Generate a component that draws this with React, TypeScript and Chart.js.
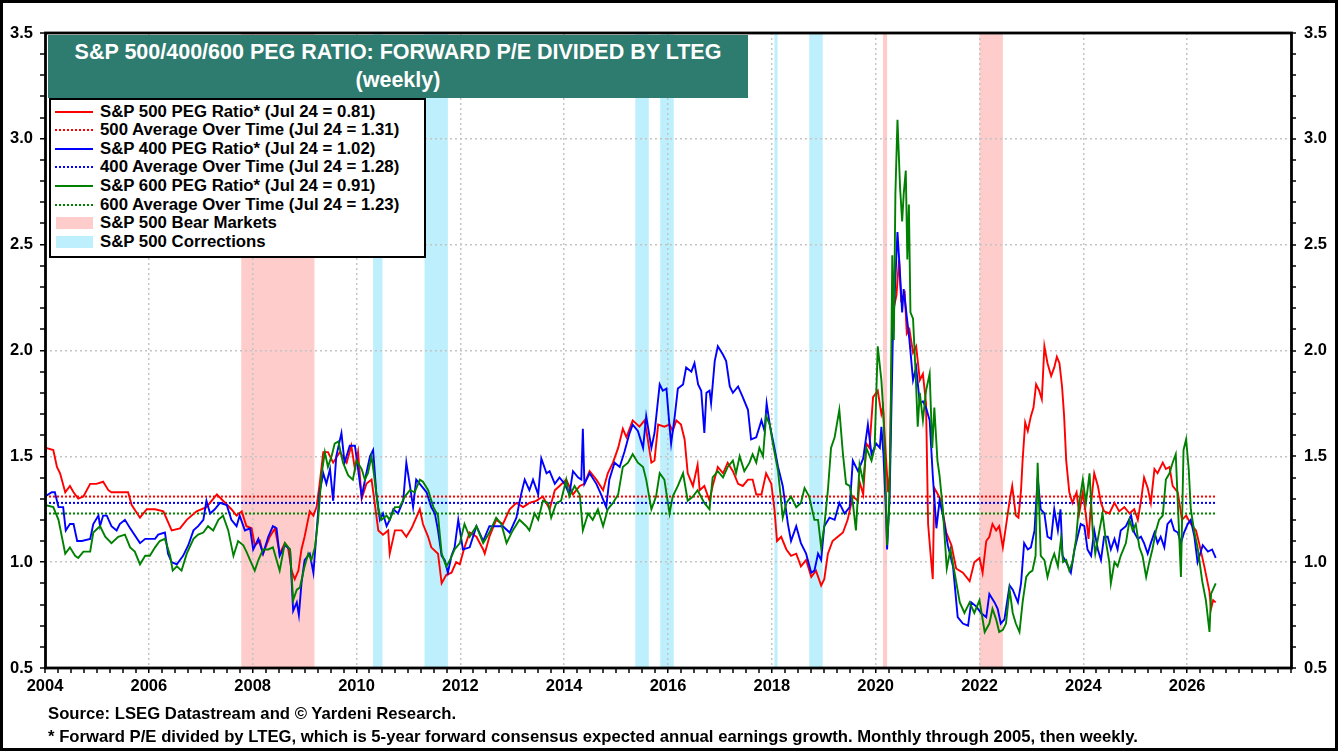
import React, { useEffect, useRef } from "react";
import { Chart, registerables } from "chart.js";
Chart.register(...registerables);

const FONT = '"Liberation Sans", Arial, Helvetica, sans-serif';

const titleLines = ["S&P 500/400/600 PEG RATIO: FORWARD P/E DIVIDED BY LTEG", "(weekly)"];
const footnotes = [
  "Source: LSEG Datastream and \u00a9 Yardeni Research.",
  "* Forward P/E divided by LTEG, which is 5-year forward consensus expected annual earnings growth. Monthly through 2005, then weekly.",
];
const xLabelYears = [2004, 2006, 2008, 2010, 2012, 2014, 2016, 2018, 2020, 2022, 2024, 2026];
const yLabelValues = [0.5, 1.0, 1.5, 2.0, 2.5, 3.0, 3.5];

const legendLabels = [
  "S&P 500 PEG Ratio* (Jul 24 = 0.81)",
  "500 Average Over Time (Jul 24 = 1.31)",
  "S&P 400 PEG Ratio* (Jul 24 = 1.02)",
  "400 Average Over Time (Jul 24 = 1.28)",
  "S&P 600 PEG Ratio* (Jul 24 = 0.91)",
  "600 Average Over Time (Jul 24 = 1.23)",
  "S&P 500 Bear Markets",
  "S&P 500 Corrections",
];

const avg500 = 1.31;
const avg400 = 1.28;
const avg600 = 1.23;
const avgSpan = [2004.0, 2026.55];

const bearMarkets = [[2007.78, 2009.19], [2020.14, 2020.22], [2022.0, 2022.45]];
const corrections = [[2010.32, 2010.5], [2011.31, 2011.76], [2015.37, 2015.63], [2015.85, 2016.11], [2018.05, 2018.11], [2018.72, 2018.98]];

const sp500 = [[2004.00,1.49],[2004.02,1.54],[2004.16,1.53],[2004.23,1.45],[2004.29,1.42],[2004.39,1.33],[2004.48,1.36],[2004.55,1.33],[2004.64,1.30],[2004.74,1.31],[2004.87,1.37],[2004.99,1.37],[2005.12,1.38],[2005.22,1.34],[2005.28,1.33],[2005.60,1.33],[2005.67,1.27],[2005.83,1.21],[2005.96,1.25],[2006.12,1.25],[2006.28,1.24],[2006.44,1.15],[2006.60,1.16],[2006.73,1.20],[2006.92,1.24],[2007.11,1.26],[2007.31,1.32],[2007.43,1.29],[2007.59,1.25],[2007.69,1.22],[2007.79,1.24],[2007.88,1.17],[2007.98,1.16],[2008.04,1.08],[2008.14,1.10],[2008.20,1.04],[2008.33,1.12],[2008.43,1.16],[2008.52,1.04],[2008.62,1.09],[2008.68,1.07],[2008.75,0.96],[2008.81,0.92],[2008.88,0.96],[2008.94,1.06],[2009.00,1.12],[2009.10,1.24],[2009.17,1.22],[2009.23,1.26],[2009.29,1.37],[2009.36,1.52],[2009.45,1.52],[2009.55,1.47],[2009.68,1.52],[2009.81,1.47],[2009.90,1.55],[2009.97,1.44],[2010.03,1.52],[2010.10,1.30],[2010.19,1.37],[2010.29,1.39],[2010.35,1.28],[2010.42,1.15],[2010.51,1.13],[2010.61,1.15],[2010.64,1.04],[2010.74,1.15],[2010.87,1.15],[2010.96,1.12],[2011.06,1.16],[2011.15,1.21],[2011.22,1.25],[2011.28,1.18],[2011.38,1.12],[2011.44,1.07],[2011.57,1.04],[2011.64,0.90],[2011.73,0.94],[2011.83,0.95],[2011.92,1.00],[2011.99,0.99],[2012.08,1.07],[2012.18,1.14],[2012.31,1.12],[2012.44,1.06],[2012.47,1.04],[2012.56,1.12],[2012.69,1.20],[2012.82,1.18],[2012.95,1.25],[2013.08,1.28],[2013.21,1.26],[2013.33,1.28],[2013.46,1.29],[2013.59,1.31],[2013.72,1.25],[2013.82,1.34],[2013.91,1.36],[2014.04,1.39],[2014.17,1.32],[2014.30,1.36],[2014.39,1.37],[2014.49,1.43],[2014.62,1.39],[2014.75,1.34],[2014.84,1.42],[2014.94,1.47],[2015.04,1.54],[2015.13,1.63],[2015.20,1.59],[2015.32,1.67],[2015.45,1.64],[2015.55,1.67],[2015.61,1.58],[2015.68,1.47],[2015.74,1.48],[2015.81,1.65],[2015.93,1.64],[2016.03,1.65],[2016.09,1.62],[2016.16,1.67],[2016.25,1.65],[2016.32,1.58],[2016.38,1.42],[2016.48,1.36],[2016.57,1.46],[2016.61,1.34],[2016.70,1.36],[2016.80,1.29],[2016.86,1.36],[2016.96,1.45],[2017.06,1.42],[2017.15,1.47],[2017.25,1.43],[2017.35,1.37],[2017.44,1.36],[2017.54,1.39],[2017.63,1.39],[2017.70,1.32],[2017.80,1.32],[2017.89,1.42],[2017.99,1.37],[2018.05,1.25],[2018.10,1.10],[2018.18,1.12],[2018.28,1.06],[2018.37,1.03],[2018.47,1.04],[2018.56,0.98],[2018.66,1.01],[2018.76,0.93],[2018.85,0.96],[2018.95,0.89],[2019.01,0.92],[2019.08,1.04],[2019.17,1.10],[2019.27,1.12],[2019.37,1.14],[2019.46,1.20],[2019.56,1.31],[2019.66,1.29],[2019.69,1.38],[2019.76,1.32],[2019.82,1.56],[2019.88,1.54],[2019.95,1.78],[2020.04,1.81],[2020.11,1.70],[2020.14,1.73],[2020.20,1.49],[2020.24,1.33],[2020.27,1.41],[2020.30,1.86],[2020.33,2.18],[2020.40,2.26],[2020.45,2.43],[2020.49,2.24],[2020.56,2.27],[2020.60,2.08],[2020.65,2.10],[2020.72,1.99],[2020.78,2.02],[2020.85,1.86],[2020.91,1.89],[2020.97,1.75],[2021.01,1.18],[2021.05,1.06],[2021.10,0.92],[2021.13,1.35],[2021.20,1.32],[2021.26,1.29],[2021.36,1.14],[2021.46,1.08],[2021.55,0.97],[2021.68,0.95],[2021.81,0.91],[2021.90,1.00],[2022.00,1.02],[2022.06,0.95],[2022.13,1.10],[2022.19,1.12],[2022.25,1.18],[2022.32,1.15],[2022.38,1.17],[2022.45,1.07],[2022.51,1.17],[2022.58,1.29],[2022.63,1.36],[2022.70,1.22],[2022.75,1.21],[2022.80,1.34],[2022.83,1.48],[2022.88,1.66],[2022.93,1.62],[2022.99,1.69],[2023.04,1.73],[2023.09,1.84],[2023.15,1.81],[2023.20,1.77],[2023.25,2.02],[2023.31,1.94],[2023.38,1.88],[2023.44,1.92],[2023.49,1.97],[2023.54,1.94],[2023.59,1.83],[2023.63,1.69],[2023.67,1.48],[2023.73,1.33],[2023.79,1.28],[2023.87,1.33],[2023.92,1.23],[2023.99,1.33],[2024.05,1.22],[2024.10,1.11],[2024.15,1.28],[2024.21,1.42],[2024.28,1.36],[2024.34,1.28],[2024.40,1.24],[2024.50,1.23],[2024.60,1.28],[2024.69,1.24],[2024.79,1.26],[2024.89,1.23],[2024.98,1.25],[2025.05,1.20],[2025.11,1.29],[2025.17,1.40],[2025.24,1.35],[2025.30,1.28],[2025.37,1.44],[2025.43,1.42],[2025.53,1.47],[2025.59,1.44],[2025.66,1.45],[2025.72,1.36],[2025.82,1.33],[2025.90,1.20],[2025.98,1.22],[2026.07,1.18],[2026.17,1.15],[2026.23,1.09],[2026.33,0.98],[2026.43,0.86],[2026.46,0.78],[2026.50,0.82],[2026.55,0.81]];

const sp400 = [[2004.00,1.31],[2004.13,1.33],[2004.19,1.33],[2004.26,1.26],[2004.35,1.26],[2004.40,1.15],[2004.48,1.18],[2004.55,1.18],[2004.62,1.10],[2004.71,1.10],[2004.87,1.11],[2004.93,1.18],[2005.03,1.22],[2005.06,1.17],[2005.12,1.22],[2005.19,1.22],[2005.28,1.17],[2005.38,1.15],[2005.44,1.18],[2005.54,1.20],[2005.64,1.16],[2005.83,1.09],[2005.93,1.11],[2006.12,1.11],[2006.18,1.13],[2006.31,1.14],[2006.37,1.04],[2006.44,1.00],[2006.54,0.99],[2006.60,1.01],[2006.66,1.03],[2006.76,1.08],[2006.86,1.15],[2006.95,1.17],[2007.05,1.20],[2007.11,1.29],[2007.18,1.23],[2007.27,1.25],[2007.37,1.28],[2007.50,1.27],[2007.59,1.20],[2007.69,1.17],[2007.75,1.22],[2007.85,1.15],[2007.95,1.16],[2008.01,1.06],[2008.11,1.11],[2008.20,1.04],[2008.30,1.12],[2008.39,1.17],[2008.46,1.16],[2008.52,1.03],[2008.62,1.08],[2008.72,1.06],[2008.78,0.77],[2008.85,0.81],[2008.89,0.75],[2008.94,0.90],[2009.00,1.01],[2009.10,1.04],[2009.17,0.95],[2009.23,1.14],[2009.29,1.33],[2009.36,1.42],[2009.42,1.37],[2009.49,1.44],[2009.55,1.29],[2009.61,1.50],[2009.71,1.61],[2009.77,1.47],[2009.87,1.55],[2009.97,1.55],[2010.03,1.44],[2010.10,1.31],[2010.19,1.42],[2010.26,1.50],[2010.32,1.53],[2010.38,1.33],[2010.45,1.20],[2010.51,1.23],[2010.58,1.17],[2010.64,1.20],[2010.71,1.25],[2010.80,1.23],[2010.90,1.29],[2010.96,1.47],[2011.03,1.36],[2011.09,1.26],[2011.15,1.39],[2011.25,1.36],[2011.35,1.33],[2011.44,1.26],[2011.51,1.23],[2011.57,1.15],[2011.64,1.03],[2011.70,1.01],[2011.76,0.95],[2011.83,1.03],[2011.89,1.07],[2011.96,1.20],[2012.05,1.06],[2012.18,1.07],[2012.31,1.17],[2012.44,1.10],[2012.56,1.17],[2012.69,1.17],[2012.82,1.17],[2012.95,1.14],[2013.08,1.21],[2013.17,1.32],[2013.24,1.39],[2013.33,1.34],[2013.40,1.39],[2013.50,1.32],[2013.56,1.49],[2013.66,1.42],[2013.72,1.43],[2013.82,1.37],[2013.91,1.40],[2014.01,1.37],[2014.10,1.32],[2014.17,1.43],[2014.27,1.40],[2014.33,1.39],[2014.36,1.63],[2014.39,1.37],[2014.49,1.42],[2014.62,1.37],[2014.71,1.32],[2014.81,1.26],[2014.87,1.39],[2014.97,1.47],[2015.07,1.45],[2015.16,1.52],[2015.26,1.61],[2015.32,1.65],[2015.42,1.62],[2015.52,1.54],[2015.58,1.69],[2015.68,1.54],[2015.74,1.61],[2015.84,1.84],[2015.90,1.81],[2015.97,1.82],[2016.03,1.64],[2016.06,1.56],[2016.13,1.69],[2016.19,1.82],[2016.29,1.84],[2016.35,1.92],[2016.45,1.90],[2016.51,1.94],[2016.58,1.84],[2016.64,1.81],[2016.70,1.61],[2016.74,1.80],[2016.80,1.81],[2016.83,1.75],[2016.90,1.95],[2016.96,2.02],[2017.06,1.98],[2017.12,1.95],[2017.19,1.83],[2017.25,1.80],[2017.35,1.83],[2017.44,1.78],[2017.54,1.72],[2017.60,1.58],[2017.70,1.59],[2017.80,1.67],[2017.86,1.62],[2017.90,1.75],[2017.96,1.65],[2018.05,1.54],[2018.12,1.45],[2018.21,1.36],[2018.31,1.18],[2018.37,1.10],[2018.47,1.17],[2018.56,1.09],[2018.66,1.04],[2018.76,0.95],[2018.82,0.96],[2018.89,1.04],[2018.95,1.01],[2019.01,1.17],[2019.11,1.21],[2019.21,1.20],[2019.30,1.28],[2019.40,1.23],[2019.50,1.26],[2019.56,1.48],[2019.66,1.43],[2019.76,1.49],[2019.85,1.65],[2019.92,1.51],[2020.01,1.56],[2020.08,1.54],[2020.11,1.64],[2020.15,1.51],[2020.20,1.23],[2020.22,1.06],[2020.27,1.32],[2020.33,2.05],[2020.38,2.34],[2020.42,2.56],[2020.46,2.40],[2020.51,2.18],[2020.54,2.29],[2020.59,2.18],[2020.65,2.05],[2020.72,1.86],[2020.78,1.92],[2020.85,1.75],[2020.91,1.76],[2020.97,1.73],[2021.04,1.67],[2021.10,1.41],[2021.17,1.16],[2021.23,1.29],[2021.29,1.23],[2021.39,1.08],[2021.49,0.98],[2021.58,0.74],[2021.68,0.71],[2021.78,0.70],[2021.84,0.81],[2021.94,0.79],[2022.03,0.76],[2022.13,0.74],[2022.19,0.85],[2022.29,0.81],[2022.35,0.78],[2022.41,0.71],[2022.48,0.73],[2022.58,0.89],[2022.64,0.87],[2022.74,0.81],[2022.80,0.90],[2022.86,1.09],[2022.93,1.06],[2022.99,1.07],[2023.06,1.15],[2023.12,1.40],[2023.18,1.25],[2023.25,1.23],[2023.31,1.12],[2023.38,1.11],[2023.44,1.25],[2023.51,1.15],[2023.56,1.25],[2023.60,1.03],[2023.67,1.00],[2023.76,0.95],[2023.83,1.06],[2023.89,1.12],[2023.95,1.18],[2024.02,1.17],[2024.08,1.06],[2024.15,1.03],[2024.21,1.15],[2024.28,1.06],[2024.34,1.01],[2024.40,1.12],[2024.47,1.12],[2024.53,1.06],[2024.60,1.11],[2024.66,1.06],[2024.72,1.15],[2024.82,1.17],[2024.92,1.22],[2024.98,1.14],[2025.05,1.11],[2025.11,1.12],[2025.17,1.09],[2025.24,1.04],[2025.30,1.09],[2025.37,1.14],[2025.43,1.09],[2025.49,1.12],[2025.56,1.07],[2025.62,1.18],[2025.69,1.20],[2025.75,1.15],[2025.82,1.14],[2025.88,1.09],[2025.94,1.14],[2026.01,1.18],[2026.07,1.20],[2026.14,1.12],[2026.20,1.00],[2026.30,1.08],[2026.40,1.05],[2026.48,1.06],[2026.55,1.02]];

const sp600 = [[2004.00,1.27],[2004.16,1.26],[2004.26,1.20],[2004.39,1.04],[2004.48,1.07],[2004.58,1.03],[2004.64,1.02],[2004.74,1.05],[2004.87,1.05],[2004.93,1.14],[2005.06,1.17],[2005.16,1.12],[2005.28,1.09],[2005.41,1.12],[2005.54,1.13],[2005.64,1.07],[2005.73,1.05],[2005.83,0.99],[2005.93,1.03],[2006.02,1.03],[2006.12,1.07],[2006.21,1.10],[2006.31,1.11],[2006.41,1.03],[2006.46,0.96],[2006.54,0.98],[2006.63,0.96],[2006.73,1.04],[2006.86,1.11],[2006.95,1.13],[2007.05,1.14],[2007.14,1.17],[2007.24,1.15],[2007.34,1.20],[2007.43,1.22],[2007.53,1.15],[2007.63,1.03],[2007.72,1.10],[2007.82,1.08],[2007.88,1.05],[2007.95,1.01],[2008.04,0.96],[2008.11,1.01],[2008.20,1.06],[2008.30,1.06],[2008.39,1.07],[2008.52,0.96],[2008.62,1.09],[2008.72,1.06],[2008.78,0.82],[2008.85,0.87],[2008.91,0.88],[2009.00,0.98],[2009.07,1.04],[2009.13,1.01],[2009.20,1.07],[2009.26,1.20],[2009.33,1.42],[2009.39,1.52],[2009.45,1.45],[2009.52,1.50],[2009.58,1.56],[2009.65,1.57],[2009.74,1.47],[2009.84,1.41],[2009.93,1.39],[2010.00,1.48],[2010.10,1.44],[2010.16,1.39],[2010.22,1.42],[2010.29,1.50],[2010.35,1.39],[2010.42,1.25],[2010.48,1.20],[2010.58,1.22],[2010.64,1.20],[2010.74,1.26],[2010.83,1.26],[2010.93,1.31],[2011.03,1.34],[2011.12,1.33],[2011.22,1.39],[2011.28,1.38],[2011.38,1.34],[2011.48,1.26],[2011.57,1.22],[2011.64,1.04],[2011.73,0.98],[2011.80,1.01],[2011.89,1.06],[2011.99,1.09],[2012.08,1.18],[2012.18,1.12],[2012.31,1.17],[2012.44,1.09],[2012.56,1.14],[2012.69,1.21],[2012.79,1.18],[2012.89,1.09],[2013.01,1.15],[2013.14,1.20],[2013.27,1.17],[2013.33,1.15],[2013.43,1.23],[2013.50,1.20],[2013.59,1.29],[2013.69,1.28],[2013.75,1.21],[2013.85,1.28],[2013.94,1.29],[2014.04,1.39],[2014.10,1.31],[2014.20,1.36],[2014.30,1.32],[2014.36,1.15],[2014.46,1.23],[2014.55,1.20],[2014.65,1.25],[2014.75,1.17],[2014.84,1.25],[2014.94,1.28],[2015.04,1.32],[2015.13,1.45],[2015.23,1.47],[2015.32,1.51],[2015.42,1.47],[2015.52,1.45],[2015.58,1.39],[2015.68,1.25],[2015.77,1.31],[2015.84,1.42],[2015.93,1.39],[2016.03,1.23],[2016.09,1.31],[2016.19,1.36],[2016.29,1.42],[2016.38,1.29],[2016.48,1.31],[2016.57,1.34],[2016.70,1.28],[2016.80,1.25],[2016.86,1.40],[2016.96,1.43],[2017.06,1.40],[2017.15,1.45],[2017.25,1.48],[2017.31,1.42],[2017.38,1.50],[2017.47,1.43],[2017.57,1.47],[2017.63,1.51],[2017.70,1.47],[2017.76,1.54],[2017.83,1.50],[2017.89,1.69],[2017.96,1.65],[2018.02,1.56],[2018.12,1.43],[2018.21,1.21],[2018.28,1.28],[2018.37,1.31],[2018.47,1.26],[2018.56,1.28],[2018.63,1.35],[2018.72,1.31],[2018.82,1.20],[2018.89,1.20],[2018.95,1.07],[2019.01,1.17],[2019.08,1.34],[2019.14,1.54],[2019.21,1.59],[2019.30,1.72],[2019.37,1.51],[2019.43,1.37],[2019.50,1.36],[2019.56,1.28],[2019.62,1.15],[2019.69,1.46],[2019.76,1.38],[2019.82,1.54],[2019.92,1.48],[2019.98,1.54],[2020.04,2.02],[2020.11,1.86],[2020.15,1.70],[2020.19,1.38],[2020.22,1.08],[2020.26,1.26],[2020.29,1.70],[2020.32,2.45],[2020.35,2.05],[2020.38,2.74],[2020.42,3.09],[2020.47,2.77],[2020.51,2.61],[2020.54,2.74],[2020.58,2.85],[2020.61,2.43],[2020.64,2.69],[2020.67,2.18],[2020.72,2.15],[2020.77,1.89],[2020.81,1.64],[2020.85,1.80],[2020.91,1.67],[2020.97,1.81],[2021.04,1.89],[2021.09,1.54],[2021.13,1.73],[2021.19,1.48],[2021.23,1.41],[2021.29,1.26],[2021.37,0.97],[2021.44,1.06],[2021.52,0.95],[2021.62,0.81],[2021.71,0.76],[2021.81,0.81],[2021.90,0.76],[2022.00,0.82],[2022.10,0.67],[2022.19,0.71],[2022.25,0.78],[2022.32,0.73],[2022.38,0.67],[2022.45,0.68],[2022.51,0.71],[2022.58,0.87],[2022.64,0.76],[2022.70,0.71],[2022.77,0.67],[2022.83,0.81],[2022.90,0.93],[2022.96,0.95],[2023.02,0.96],[2023.08,1.03],[2023.12,1.47],[2023.15,1.26],[2023.18,1.03],[2023.25,1.01],[2023.31,0.93],[2023.38,1.00],[2023.44,1.04],[2023.51,0.98],[2023.57,1.11],[2023.61,1.00],[2023.67,1.01],[2023.73,0.96],[2023.79,1.00],[2023.86,1.11],[2023.92,1.28],[2023.99,1.39],[2024.05,1.28],[2024.12,1.42],[2024.18,1.15],[2024.23,1.04],[2024.31,1.15],[2024.37,1.23],[2024.44,1.09],[2024.50,1.00],[2024.53,0.90],[2024.60,1.00],[2024.66,0.98],[2024.72,1.03],[2024.82,1.09],[2024.89,1.20],[2024.95,1.15],[2025.01,1.18],[2025.08,1.07],[2025.14,1.03],[2025.21,0.93],[2025.27,1.00],[2025.33,1.06],[2025.40,1.15],[2025.46,1.20],[2025.53,1.22],[2025.59,1.39],[2025.66,1.42],[2025.72,1.47],[2025.78,1.51],[2025.83,1.22],[2025.88,0.93],[2025.93,1.53],[2025.98,1.58],[2026.03,1.44],[2026.07,1.25],[2026.14,1.14],[2026.20,1.07],[2026.29,0.91],[2026.36,0.82],[2026.43,0.67],[2026.46,0.85],[2026.55,0.90]];

const RED = "#ff0000";
const BLUE = "#0000ff";
const GREEN = "#008000";
const BEAR = "#ffcccc";
const CORR = "#bdf0fc";
const TITLE_BG = "#2e7b6f";

const toXY = (arr: number[][]) => arr.map(([x, y]) => ({ x, y }));
const flat = (v: number) => avgSpan.map((x) => ({ x, y: v }));
const isMajorY = (v: number) => Math.abs(v * 2 - Math.round(v * 2)) < 1e-6;

const shadePlugin = {
  id: "shade",
  beforeDraw(chart: any) {
    const { ctx, chartArea, scales } = chart;
    const xs = scales.x;
    ctx.save();
    const paint = (ranges: number[][], color: string) => {
      ctx.fillStyle = color;
      ranges.forEach(([a, b]) => {
        const x1 = xs.getPixelForValue(a);
        const x2 = xs.getPixelForValue(b);
        ctx.fillRect(x1, chartArea.top, Math.max(1.5, x2 - x1), chartArea.bottom - chartArea.top);
      });
    };
    paint(corrections, CORR);
    paint(bearMarkets, BEAR);
    ctx.restore();
  },
  afterDraw(chart: any) {
    const { ctx, chartArea } = chart;
    ctx.save();
    ctx.strokeStyle = "#000";
    ctx.lineWidth = 2.8;
    ctx.strokeRect(chartArea.left + 0.5, chartArea.top, chartArea.right - chartArea.left, chartArea.bottom - chartArea.top);
    ctx.restore();
  },
};

function PegChart() {
  const ref = useRef<HTMLCanvasElement | null>(null);
  useEffect(() => {
    if (!ref.current) return;
    const tickFont = { family: FONT, size: 16.5, weight: "bold" as const };
    const line = (label: string, data: any, color: string, order: number, dash?: number[]) => ({
      label,
      data,
      borderColor: color,
      backgroundColor: color,
      borderWidth: dash ? 2 : 1.9,
      borderDash: dash || [],
      pointRadius: 0,
      tension: 0,
      fill: false,
      order,
    });
    const labelCb = (v: any) => {
      const n = Number(v);
      return isMajorY(n) && yLabelValues.some((t) => Math.abs(t - n) < 1e-6) ? n.toFixed(1) : "";
    };
    const chart = new Chart(ref.current, {
      type: "line",
      data: {
        datasets: [
          line(legendLabels[4], toXY(sp600), GREEN, 0),
          line(legendLabels[2], toXY(sp400), BLUE, 1),
          line(legendLabels[0], toXY(sp500), RED, 2),
          line(legendLabels[1], flat(avg500), RED, 3, [2, 2]),
          line(legendLabels[3], flat(avg400), BLUE, 3, [2, 2]),
          line(legendLabels[5], flat(avg600), GREEN, 3, [2, 2]),
        ],
      },
      options: {
        animation: false,
        responsive: false,
        maintainAspectRatio: false,
        layout: { padding: { left: 0, right: 0, top: 33, bottom: 0 } },
        plugins: { legend: { display: false }, tooltip: { enabled: false }, title: { display: false } },
        scales: {
          x: {
            type: "linear",
            min: 2004,
            max: 2028,
            afterFit: (s: any) => { s.height = 83; },
            border: { display: false, dash: [2, 3] },
            grid: {
              color: "#c4c4c4",
              lineWidth: (c: any) => (c.tick && Math.abs(c.tick.value % 2) < 1e-6 && c.tick.value > 2004 && c.tick.value < 2028 ? 1.5 : 0),
              tickWidth: 1.5,
              tickColor: "#000",
              tickLength: 5,
            },
            ticks: {
              stepSize: 0.25,
              autoSkip: false,
              maxRotation: 0,
              padding: 4,
              color: "#000",
              font: tickFont,
              callback: (v: any) => (xLabelYears.includes(Number(v)) ? String(v) : ""),
            },
          },
          y: {
            position: "left",
            min: 0.5,
            max: 3.5,
            afterFit: (s: any) => { s.width = 45; },
            border: { display: false, dash: [2, 3] },
            grid: {
              color: "#c4c4c4",
              lineWidth: (c: any) => (c.tick && isMajorY(c.tick.value) && c.tick.value > 0.6 && c.tick.value < 3.4 ? 1.5 : 0),
              tickWidth: 1.5,
              tickColor: "#000",
              tickLength: 5,
            },
            ticks: { stepSize: 0.1, autoSkip: false, padding: 7, color: "#000", font: tickFont, callback: labelCb },
          },
          y2: {
            position: "right",
            min: 0.5,
            max: 3.5,
            afterFit: (s: any) => { s.width = 47; },
            border: { display: false },
            grid: { drawOnChartArea: false, tickWidth: 1.5, tickColor: "#000", tickLength: 5, lineWidth: 0 },
            ticks: { stepSize: 0.1, autoSkip: false, padding: 8, color: "#000", font: tickFont, callback: labelCb },
          },
        },
      } as any,
      plugins: [shadePlugin],
    });
    return () => chart.destroy();
  }, []);
  return <canvas ref={ref} width={1338} height={751} style={{ position: "absolute", left: 0, top: 0, width: 1338, height: 751 }} />;
}

export default function App() {
  const legendSamples = [
    { kind: "solid", color: RED },
    { kind: "dot", color: RED },
    { kind: "solid", color: BLUE },
    { kind: "dot", color: BLUE },
    { kind: "solid", color: GREEN },
    { kind: "dot", color: GREEN },
    { kind: "box", color: BEAR },
    { kind: "box", color: CORR },
  ];
  return (
    <div style={{ position: "fixed", left: 0, top: 0, width: 1338, height: 751, background: "#fff", overflow: "hidden", fontFamily: FONT }}>
      <PegChart />
      <div style={{ position: "absolute", left: 48, top: 35, width: 700, height: 63, background: TITLE_BG, color: "#fff", fontWeight: "bold", fontSize: 21.5, lineHeight: "28px", textAlign: "center", paddingTop: 3, boxSizing: "border-box" }}>
        {titleLines.map((t, i) => (
          <div key={i} style={{ whiteSpace: "nowrap" }}>{t}</div>
        ))}
      </div>
      <div style={{ position: "absolute", left: 49, top: 98, width: 377, height: 160, border: "2px solid #000", background: "#fff", boxSizing: "border-box" }} />
      {legendLabels.map((lab, i) => {
        const cy = 111.5 + 18.65 * i;
        const s = legendSamples[i];
        let sample: any;
        if (s.kind === "solid") sample = <div style={{ position: "absolute", left: 55, top: cy - 1, width: 38, height: 2, background: s.color }} />;
        else if (s.kind === "dot") sample = <div style={{ position: "absolute", left: 55, top: cy - 1, width: 38, height: 0, borderTop: `2px dotted ${s.color}` }} />;
        else sample = <div style={{ position: "absolute", left: 56, top: cy - 6, width: 37, height: 12, background: s.color }} />;
        return (
          <React.Fragment key={i}>
            {sample}
            <div style={{ position: "absolute", left: 100, top: cy - 10, height: 20, lineHeight: "20px", fontSize: 16.8, fontWeight: "bold", color: "#000", whiteSpace: "nowrap" }}>{lab}</div>
          </React.Fragment>
        );
      })}
      <div style={{ position: "absolute", left: 48, top: 702, fontSize: 16.7, fontWeight: "bold", lineHeight: "23px", color: "#000", whiteSpace: "nowrap" }}>
        {footnotes.map((f, i) => (
          <div key={i}>{f}</div>
        ))}
      </div>
      <div style={{ position: "absolute", left: 0, top: 0, width: 1338, height: 751, border: "3px solid #000", boxSizing: "border-box", pointerEvents: "none" }} />
    </div>
  );
}
